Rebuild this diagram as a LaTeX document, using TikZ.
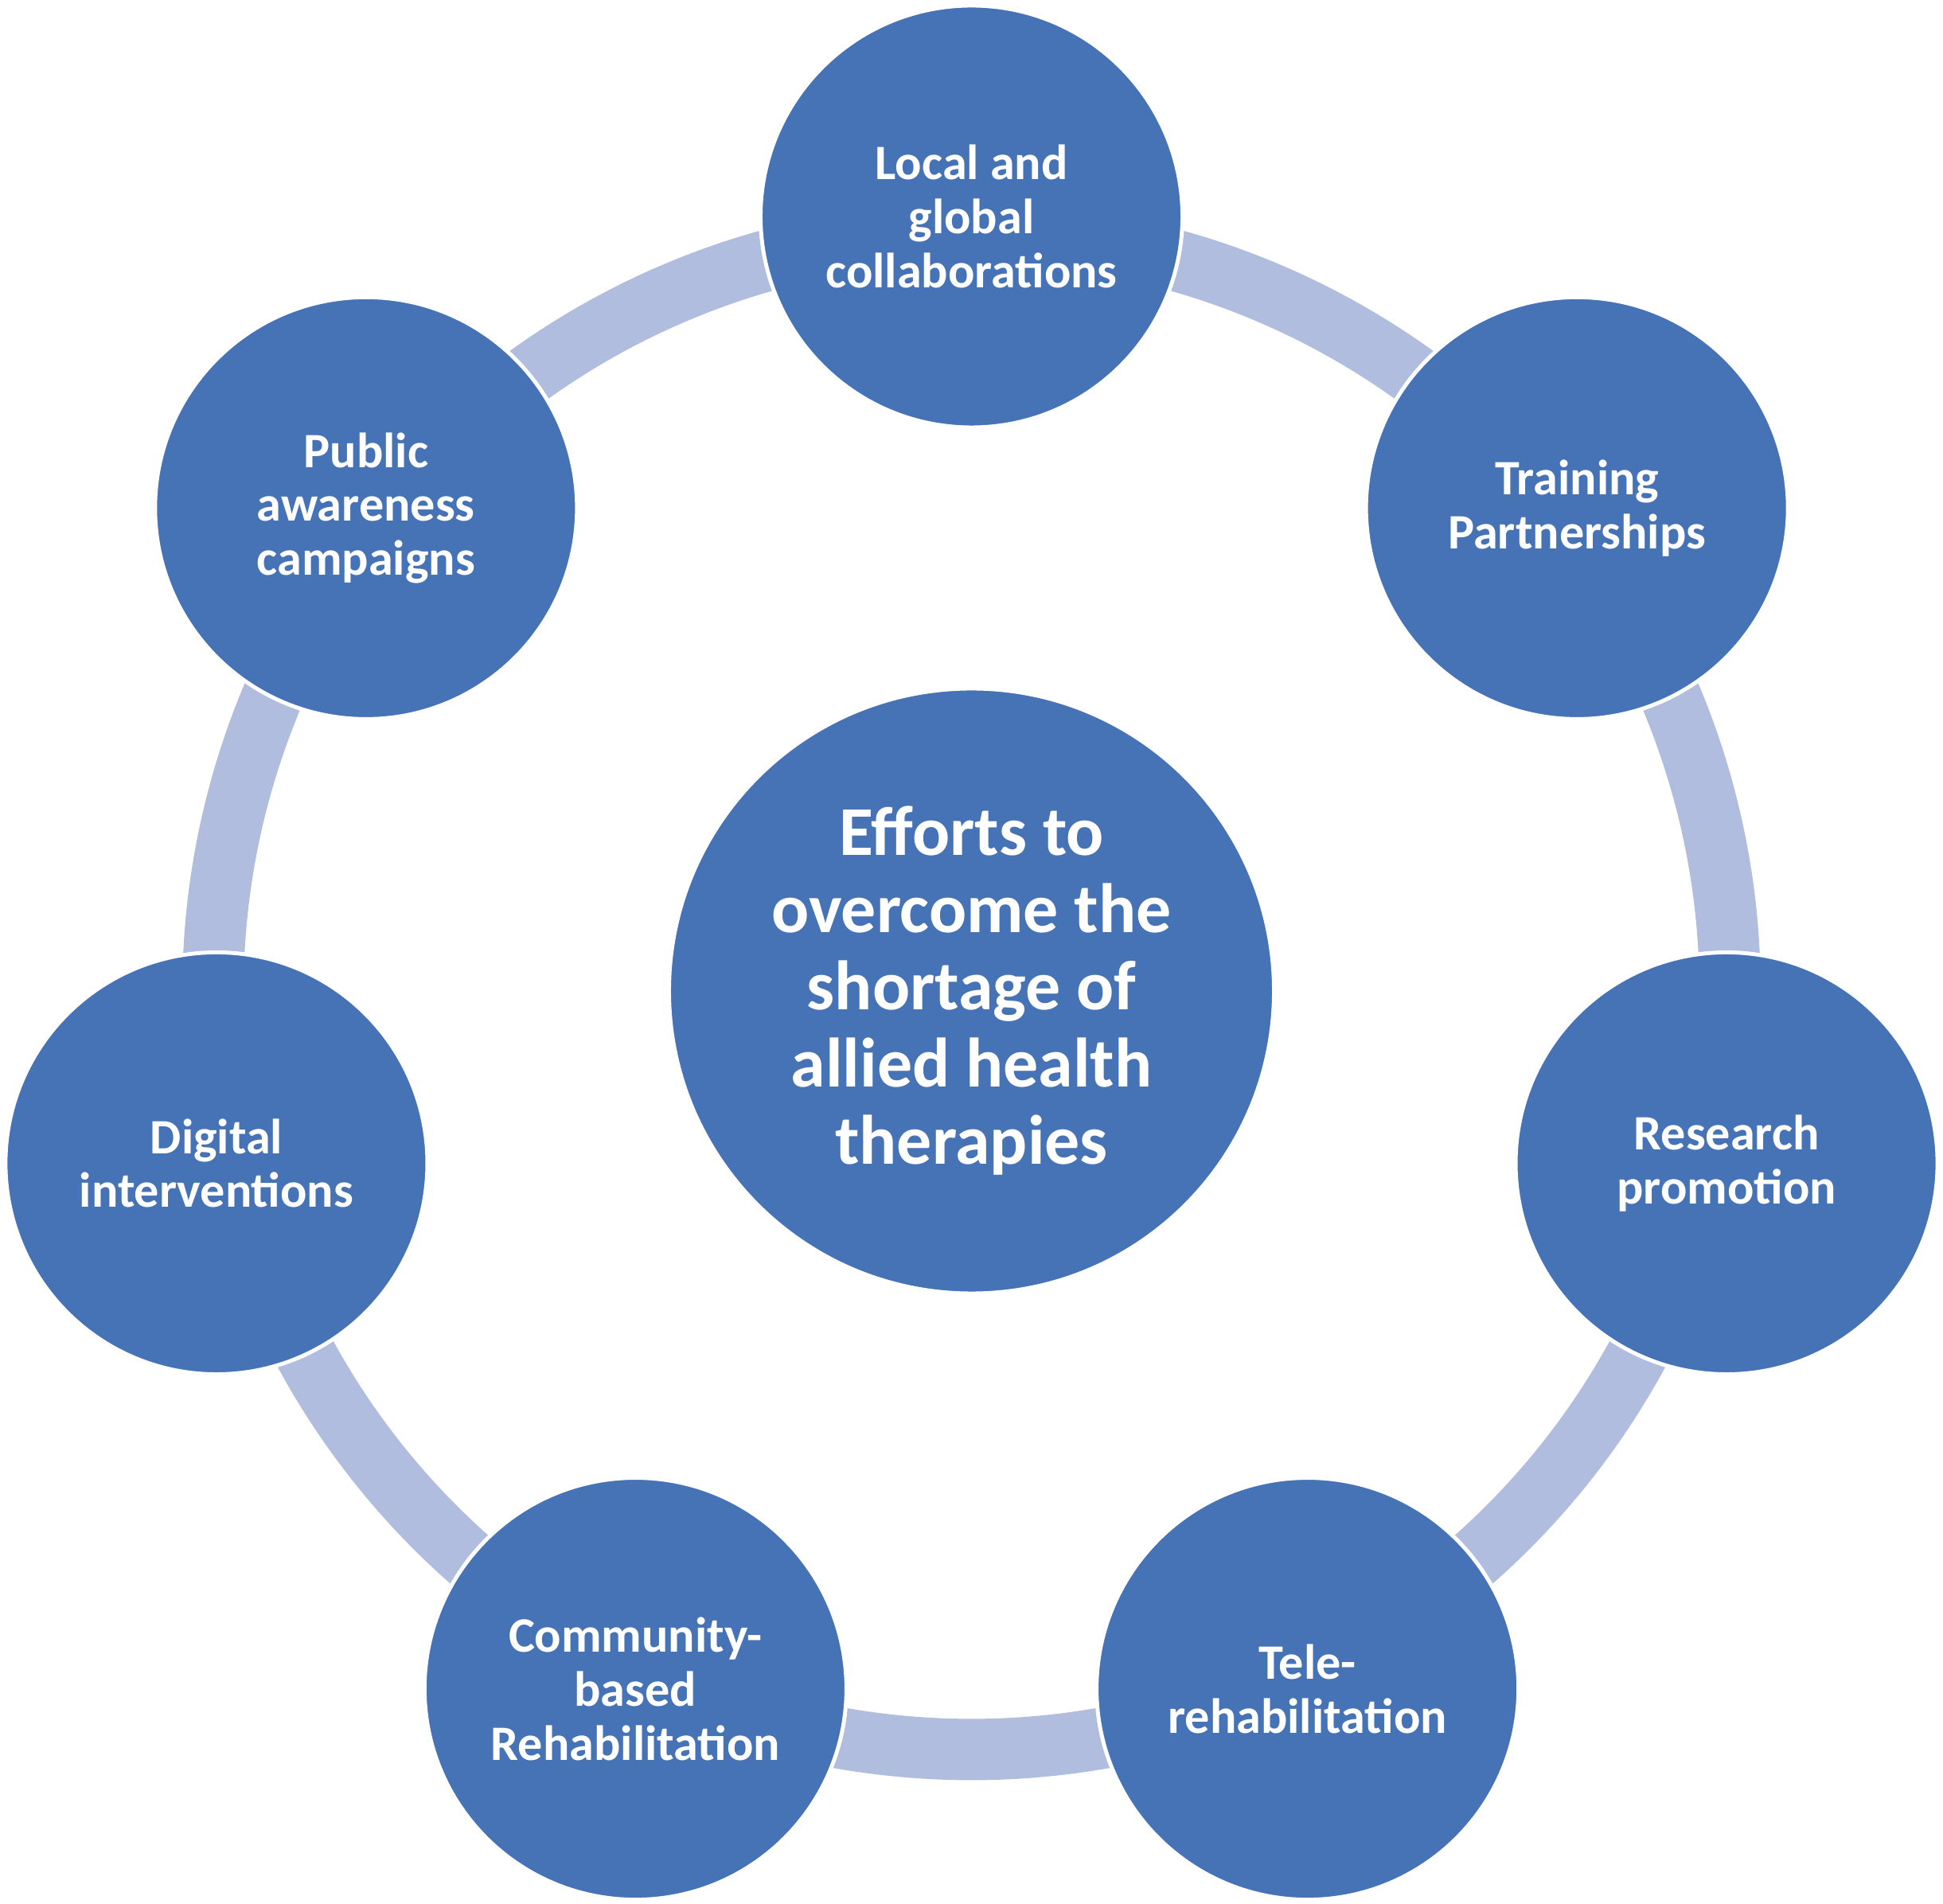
\documentclass[tikz,border=0pt]{standalone}
\usepackage{fontspec}
\setmainfont{Carlito}
\usetikzlibrary{backgrounds}
\definecolor{nodeblue}{HTML}{4672B6}
\definecolor{bandblue}{HTML}{B1BDDE}
\begin{document}
\begin{tikzpicture}[
  small/.style={circle, fill=nodeblue, draw=white, line width=1.4pt, minimum size=5.3cm, inner sep=0pt, align=center, text=white, font=\fontsize{17.7}{19.3}\selectfont\bfseries},
  big/.style={circle, fill=nodeblue, draw=white, line width=1.4pt, minimum size=7.6cm, inner sep=0pt, align=center, text=white, font=\fontsize{25}{27.6}\selectfont\bfseries},
  band/.style={draw=bandblue, line width=0.77cm}
]
\useasboundingbox (0,0) rectangle (24.41,23.92);
\coordinate (O) at (12.205,11.47);
\node[big] (hub) at (O) {Efforts to\\overcome the\\shortage of\\allied health\\therapies};
\node[small] (p1) at ([shift={(90:9.73)}]O) {Local and\\global\\collaborations};
\node[small] (p2) at ([shift={(38.571:9.73)}]O) {Training\\Partnerships};
\node[small] (p3) at ([shift={(-12.857:9.73)}]O) {Research\\promotion};
\node[small] (p4) at ([shift={(-64.286:9.73)}]O) {Tele-\\rehabilitation};
\node[small] (p5) at ([shift={(-115.714:9.73)}]O) {Community-\\based\\Rehabilitation};
\node[small] (p6) at ([shift={(-167.143:9.73)}]O) {Digital\\interventions};
\node[small] (p7) at ([shift={(141.429:9.73)}]O) {Public\\awareness\\campaigns};
\begin{scope}[on background layer]
\foreach \i in {1,...,7} {
  \pgfmathsetmacro{\a}{90-(\i-1)*360/7}
  \draw[band] ([shift={(\a+180:0.2)}]p\i.center) arc[start angle=\a, delta angle=-51.4286, radius=9.53];
}
\end{scope}
\end{tikzpicture}
\end{document}
